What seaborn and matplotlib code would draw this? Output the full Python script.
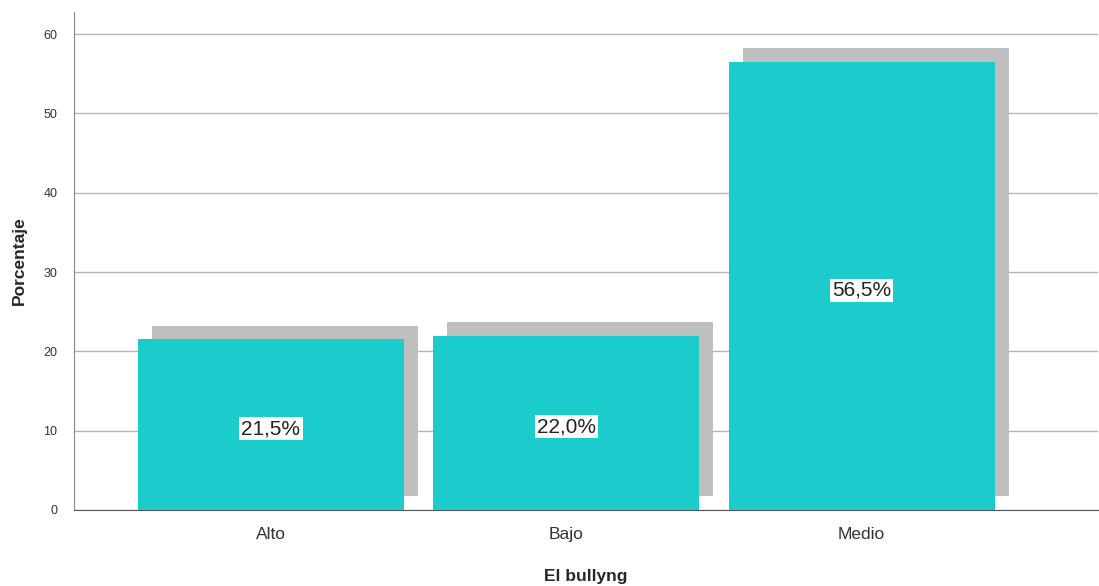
import numpy as np
import pandas as pd
import matplotlib
matplotlib.use("Agg")
import matplotlib.pyplot as plt
import matplotlib.patheffects as pe
import seaborn as sns

# data
categories = ["Alto", "Bajo", "Medio"]
percentages = [21.5, 22.0, 56.5]
y_ticks = [0, 10, 20, 30, 40, 50, 60]

sns.set_style("white")
plt.rcParams['font.family'] = ['Liberation Sans', 'DejaVu Sans']

df = pd.DataFrame({"categoria": categories, "porcentaje": percentages})

fig = plt.figure(figsize=(10.99, 5.86), dpi=100)
ax = fig.add_axes([0.0673, 0.1297, 0.9318, 0.85])

sns.barplot(data=df, x="categoria", y="porcentaje", color="#1ccccc",
            saturation=1, width=0.9, ax=ax, zorder=3)

# drop shadow behind each bar
for bar in ax.patches:
    bar.set_edgecolor("none")
    bar.set_path_effects([
        pe.SimplePatchShadow(offset=(10, 10), shadow_rgbFace="#bfbfbf", alpha=1),
        pe.Normal(),
    ])

labels = [f"{v:.1f}%".replace(".", ",") for v in percentages]
ax.bar_label(ax.containers[0], labels=labels, label_type="center",
             padding=-3, fontsize=15, color="#222222",
             bbox=dict(facecolor="white", edgecolor="none", pad=1.5))

ax.set_xlim(-0.667, 2.80)
ax.set_ylim(0, 62.8)
ax.set_yticks(y_ticks)
ax.yaxis.grid(True, color="#b4b4b4", linewidth=1)
ax.set_axisbelow(True)

ax.tick_params(axis="y", labelsize=9, colors="#333333", length=0, pad=12)
ax.tick_params(axis="x", labelsize=12.5, colors="#333333", length=0, pad=12)

ax.set_xlabel("El bullyng", fontsize=12.5, fontweight="bold", labelpad=20)
ax.set_ylabel("Porcentaje", fontsize=12.5, fontweight="bold", labelpad=12)

for side in ["top", "right"]:
    ax.spines[side].set_visible(False)
ax.spines["left"].set_color("#888888")
ax.spines["bottom"].set_color("#555555")

plt.savefig("out.png", dpi=100)
